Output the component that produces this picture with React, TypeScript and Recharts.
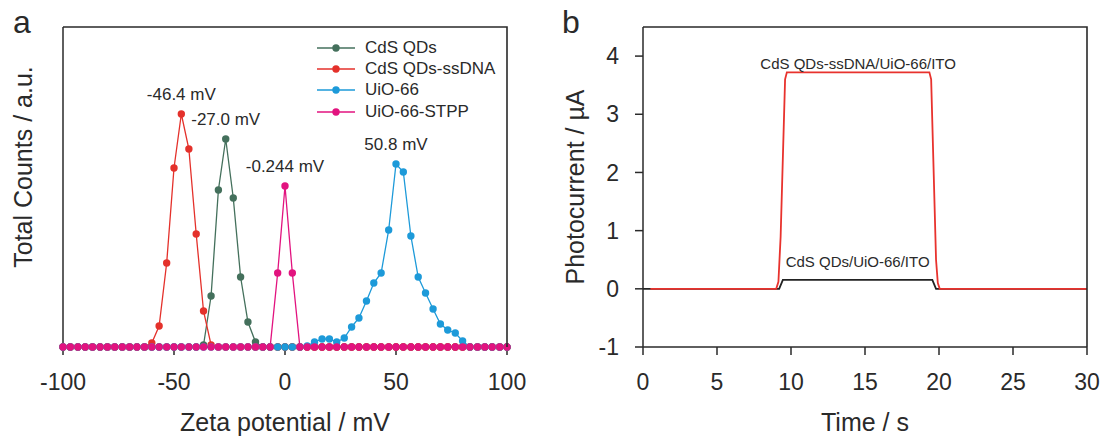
import React from 'react'
import { LineChart, Line, XAxis, YAxis, Legend, Label, ReferenceDot } from 'recharts'

const FONT = '"Liberation Sans", Arial, Helvetica, sans-serif'
const INK = '#2a2a2a'

// Zeta potential bins (mV)
const zetaBins = [
    -100, -96.7, -93.3, -90, -86.7, -83.3, -80, -76.7, -73.3, -70,
    -66.7, -63.3, -60, -56.7, -53.3, -50, -46.7, -43.3, -40, -36.7,
    -33.3, -30, -26.7, -23.3, -20, -16.7, -13.3, -10, -6.7, -3.3,
    0, 3.3, 6.7, 10, 13.3, 16.7, 20, 23.3, 26.7, 30,
    33.3, 36.7, 40, 43.3, 46.7, 50, 53.3, 56.7, 60, 63.3,
    66.7, 70, 73.3, 76.7, 80, 83.3, 86.7, 90, 93.3, 96.7, 100,
]

// Total counts (a.u.) per bin
const cdsQds = [
    0, 0, 0, 0, 0, 0, 0, 0, 0, 0,
    0, 0, 0, 0, 0, 0, 0, 0, 0, 2,
    51, 157, 208, 149, 70, 25, 5, 0, 0, 0,
    0, 0, 0, 0, 0, 0, 0, 0, 0, 0,
    0, 0, 0, 0, 0, 0, 0, 0, 0, 0,
    0, 0, 0, 0, 0, 0, 0, 0, 0, 0, 0,
]
const cdsQdsDna = [
    0, 0, 0, 0, 0, 0, 0, 0, 0, 0,
    0, 0, 4, 21, 84, 179, 233, 198, 113, 36,
    2, 0, 0, 0, 0, 0, 0, 0, 0, 0,
    0, 0, 0, 0, 0, 0, 0, 0, 0, 0,
    0, 0, 0, 0, 0, 0, 0, 0, 0, 0,
    0, 0, 0, 0, 0, 0, 0, 0, 0, 0, 0,
]
const uio66 = [
    0, 0, 0, 0, 0, 0, 0, 0, 0, 0,
    0, 0, 0, 0, 0, 0, 0, 0, 0, 0,
    0, 0, 0, 0, 0, 0, 0, 0, 0, 0,
    0, 0, 0, 1, 5, 8, 8, 5, 9, 20,
    29, 46, 64, 74, 117, 183, 175, 111, 70, 54,
    38, 23, 17, 14, 6, 0, 0, 0, 0, 0, 0,
]
const uio66Stpp = [
    0, 0, 0, 0, 0, 0, 0, 0, 0, 0,
    0, 0, 0, 0, 0, 0, 0, 0, 0, 0,
    0, 0, 0, 0, 0, 0, 0, 0, 0, 74,
    161, 74, 0, 0, 0, 0, 0, 0, 0, 0,
    0, 0, 0, 0, 0, 0, 0, 0, 0, 0,
    0, 0, 0, 0, 0, 0, 0, 0, 0, 0, 0,
]

const zetaNames = ['CdS QDs', 'CdS QDs-ssDNA', 'UiO-66', 'UiO-66-STPP']
const zetaColors = ['#44705c', '#e4312b', '#1d9ad9', '#e2137f']
const peakLabels = ['-27.0 mV', '-46.4 mV', '50.8 mV', '-0.244 mV']
const zetaTicks = [-100, -50, 0, 50, 100]

// Photocurrent (µA) vs time (s)
const ssDnaTime = [0.5, 9.0, 9.15, 9.3, 9.6, 9.72, 19.35, 19.47, 19.8, 19.92, 20.05, 30]
const ssDnaCurrent = [0, 0, 0.12, 0.9, 3.6, 3.72, 3.72, 3.6, 0.5, 0.1, 0, 0]
const qdTime = [0, 9.2, 9.45, 19.55, 19.8, 30]
const qdCurrent = [0, 0, 0.155, 0.155, 0, 0]
const photoNames = ['CdS QDs/UiO-66/ITO', 'CdS QDs-ssDNA/UiO-66/ITO']
const photoColors = ['#222222', '#e8322d']
const timeTicks = [0, 5, 10, 15, 20, 25, 30]
const currentTicks = [-1, 0, 1, 2, 3, 4]

const zetaKeys = ['cds', 'cdsDna', 'uio', 'uioStpp']
const zetaValues = [cdsQds, cdsQdsDna, uio66, uio66Stpp]
const zetaData = zetaBins.map((x, i) => {
    const row: Record<string, number> = { x }
    zetaKeys.forEach((k, s) => (row[k] = zetaValues[s][i]))
    return row
})

const photoSeries = [
    { time: qdTime, current: qdCurrent },
    { time: ssDnaTime, current: ssDnaCurrent },
].map((s) => s.time.map((t, i) => ({ t, i: s.current[i] })))

const peakIndex = (v: number[]) => v.indexOf(Math.max(...v))

// middle of the illuminated plateau, for the curve captions
const plateau = (rows: { t: number; i: number }[]) => {
    const top = Math.max(...rows.map((r) => r.i))
    const on = rows.filter((r) => r.i === top)
    return { t: (on[0].t + on[on.length - 1].t) / 2, i: top }
}

// layout
const W = 1105
const H = 436
const TOP = 27
const X_AXIS_H = 89
const LEFT_W = 560
const LEFT_Y_W = 63
const LEFT_RIGHT = 53
const RIGHT_W = 545
const RIGHT_Y_W = 83
const RIGHT_RIGHT = 18
const PLOT_H = H - X_AXIS_H - TOP

const tickStyle = { fontSize: 23, fill: INK, fontFamily: FONT }
const axisStroke = { stroke: INK, strokeWidth: 1.5 }

function VTitle({ viewBox, value, cx, shift }: any) {
    const cy = (viewBox ? viewBox.y + viewBox.height / 2 : 187) + shift
    return (
        <text
            x={cx}
            y={cy}
            transform={`rotate(-90, ${cx}, ${cy})`}
            textAnchor="middle"
            dominantBaseline="central"
            fontSize={25}
            fill={INK}
            fontFamily={FONT}
        >
            {value}
        </text>
    )
}

function ZetaLegend() {
    return (
        <div style={{ fontFamily: FONT, fontSize: 17, color: INK }}>
            {zetaNames.map((name, i) => (
                <div key={name} style={{ display: 'flex', alignItems: 'center', height: 21.4 }}>
                    <svg width={48} height={12}>
                        <line x1={0} y1={6} x2={38} y2={6} stroke={zetaColors[i]} strokeWidth={1.3} />
                        <circle cx={19} cy={6} r={3.7} fill={zetaColors[i]} />
                    </svg>
                    <span>{name}</span>
                </div>
            ))}
        </div>
    )
}

function ZetaChart() {
    return (
        <LineChart
            width={LEFT_W}
            height={H}
            data={zetaData}
            margin={{ top: TOP, right: LEFT_RIGHT, left: 0, bottom: 0 }}
        >
            <XAxis
                type="number"
                dataKey="x"
                domain={[-100, 100]}
                ticks={zetaTicks}
                height={X_AXIS_H}
                tickSize={8}
                tickMargin={19}
                tick={tickStyle}
                axisLine={axisStroke}
                tickLine={axisStroke}
            >
                <Label
                    value="Zeta potential / mV"
                    position="insideBottom"
                    offset={5}
                    fontSize={25}
                    fill={INK}
                    fontFamily={FONT}
                />
            </XAxis>
            <YAxis type="number" domain={[0, 320]} width={LEFT_Y_W} tick={false} tickLine={false} axisLine={axisStroke}>
                <Label value="Total Counts / a.u." content={(p: any) => <VTitle {...p} cx={23} shift={-20} />} />
            </YAxis>
            <Legend
                layout="vertical"
                align="center"
                verticalAlign="middle"
                content={() => <ZetaLegend />}
                wrapperStyle={{ left: 317, top: 37, width: 'auto' }}
            />
            {zetaKeys.map((k, i) => (
                <Line
                    key={k}
                    dataKey={k}
                    name={zetaNames[i]}
                    stroke={zetaColors[i]}
                    strokeWidth={1.3}
                    dot={{ r: 3.7, fill: zetaColors[i], stroke: zetaColors[i], strokeWidth: 0 }}
                    activeDot={false}
                    isAnimationActive={false}
                />
            ))}
            {zetaValues.map((v, i) => {
                const p = peakIndex(v)
                return (
                    <ReferenceDot
                        key={peakLabels[i]}
                        x={zetaBins[p]}
                        y={v[p]}
                        r={0}
                        fill="none"
                        stroke="none"
                        label={{ value: peakLabels[i], position: 'top', offset: 14, fontSize: 17, fill: INK, fontFamily: FONT }}
                    />
                )
            })}
        </LineChart>
    )
}

function PhotoChart() {
    return (
        <LineChart width={RIGHT_W} height={H} margin={{ top: TOP, right: RIGHT_RIGHT, left: 0, bottom: 0 }}>
            <XAxis
                type="number"
                dataKey="t"
                domain={[0, 30]}
                ticks={timeTicks}
                height={X_AXIS_H}
                tickSize={8}
                tickMargin={19}
                tick={tickStyle}
                axisLine={axisStroke}
                tickLine={axisStroke}
                allowDuplicatedCategory={false}
            >
                <Label value="Time / s" position="insideBottom" offset={5} fontSize={25} fill={INK} fontFamily={FONT} />
            </XAxis>
            <YAxis
                type="number"
                domain={[-1, 4.5]}
                ticks={currentTicks}
                width={RIGHT_Y_W}
                tickSize={8}
                tickMargin={16}
                tick={tickStyle}
                axisLine={axisStroke}
                tickLine={axisStroke}
            >
                <Label value="Photocurrent / µA" content={(p: any) => <VTitle {...p} cx={15} shift={0} />} />
            </YAxis>
            {photoSeries.map((rows, i) => (
                <Line
                    key={photoNames[i]}
                    data={rows}
                    dataKey="i"
                    name={photoNames[i]}
                    type="linear"
                    stroke={photoColors[i]}
                    strokeWidth={1.8}
                    dot={false}
                    activeDot={false}
                    isAnimationActive={false}
                />
            ))}
            {photoSeries.map((rows, i) => {
                const p = plateau(rows)
                return (
                    <ReferenceDot
                        key={photoNames[i]}
                        x={p.t}
                        y={p.i}
                        r={0}
                        fill="none"
                        stroke="none"
                        label={{
                            value: photoNames[i],
                            position: 'top',
                            offset: i === 0 ? 13 : 3,
                            fontSize: 15,
                            fill: INK,
                            fontFamily: FONT,
                        }}
                    />
                )
            })}
        </LineChart>
    )
}

export default function App() {
    const leftBox = { x: LEFT_Y_W, w: LEFT_W - LEFT_Y_W - LEFT_RIGHT }
    const rightBox = { x: LEFT_W + RIGHT_Y_W, w: RIGHT_W - RIGHT_Y_W - RIGHT_RIGHT }
    return (
        <div style={{ position: 'absolute', left: 0, top: 0, width: W, height: H, background: '#fff' }}>
            <div style={{ position: 'absolute', left: 0, top: 0 }}>
                <ZetaChart />
            </div>
            <div style={{ position: 'absolute', left: LEFT_W, top: 0 }}>
                <PhotoChart />
            </div>
            {/* top + right edges of each plot box, and panel letters */}
            <svg width={W} height={H} style={{ position: 'absolute', left: 0, top: 0, pointerEvents: 'none' }}>
                {[leftBox, rightBox].map((b) => (
                    <path
                        key={b.x}
                        d={`M${b.x},${TOP} H${b.x + b.w} V${TOP + PLOT_H}`}
                        fill="none"
                        stroke={INK}
                        strokeWidth={1.6}
                    />
                ))}
                <text x={13} y={33} fontSize={32} fill={INK} fontFamily={FONT}>
                    a
                </text>
                <text x={562} y={33} fontSize={32} fill={INK} fontFamily={FONT}>
                    b
                </text>
            </svg>
        </div>
    )
}
